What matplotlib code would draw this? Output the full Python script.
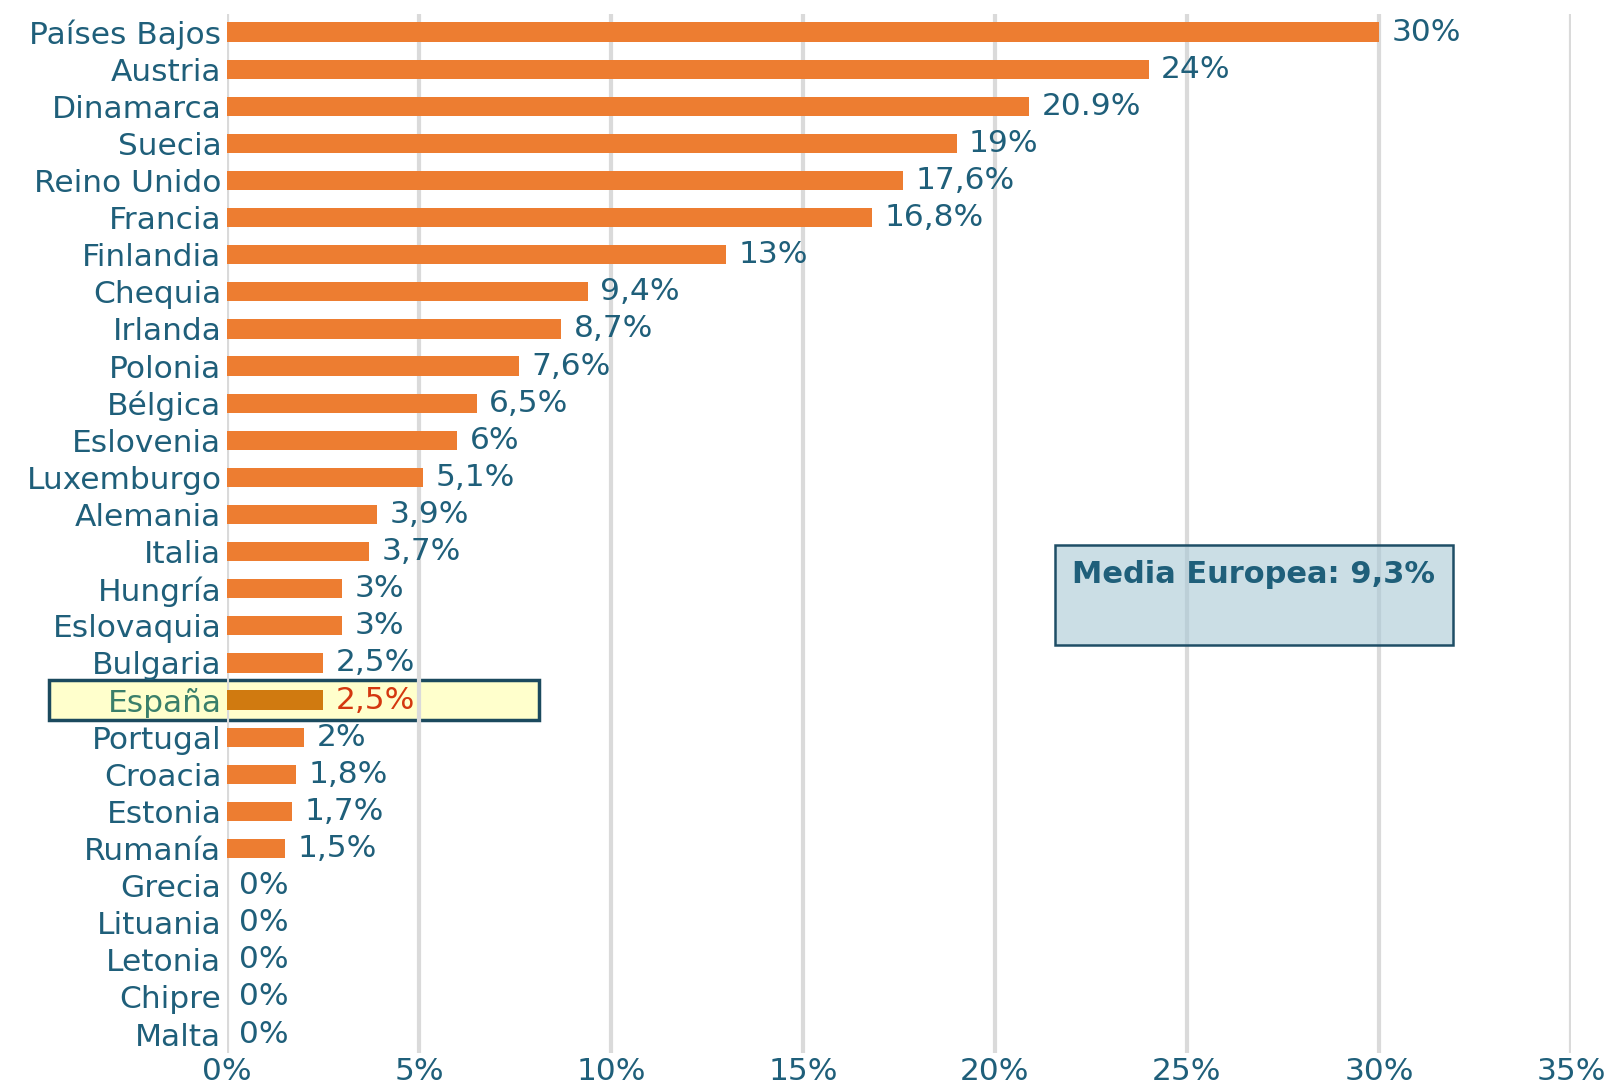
import matplotlib
matplotlib.use("Agg")
import matplotlib.pyplot as plt
from matplotlib.patches import Rectangle
import matplotlib.transforms as mtransforms

paises = ["Países Bajos", "Austria", "Dinamarca", "Suecia", "Reino Unido", "Francia",
          "Finlandia", "Chequia", "Irlanda", "Polonia", "Bélgica", "Eslovenia",
          "Luxemburgo", "Alemania", "Italia", "Hungría", "Eslovaquia", "Bulgaria",
          "España", "Portugal", "Croacia", "Estonia", "Rumanía", "Grecia",
          "Lituania", "Letonia", "Chipre", "Malta"]
valores = [30, 24, 20.9, 19, 17.6, 16.8, 13, 9.4, 8.7, 7.6, 6.5, 6, 5.1, 3.9, 3.7,
           3, 3, 2.5, 2.5, 2, 1.8, 1.7, 1.5, 0, 0, 0, 0, 0]
etiquetas = ["30%", "24%", "20.9%", "19%", "17,6%", "16,8%", "13%", "9,4%", "8,7%",
             "7,6%", "6,5%", "6%", "5,1%", "3,9%", "3,7%", "3%", "3%", "2,5%", "2,5%",
             "2%", "1,8%", "1,7%", "1,5%", "0%", "0%", "0%", "0%", "0%"]
ticks_x = [0, 5, 10, 15, 20, 25, 30, 35]
media_texto = "Media Europea: 9,3%"
destacado = "España"

azul = "#1F5F7A"
naranja = "#ED7D31"

plt.rcParams['font.family'] = ['DejaVu Sans']

fig = plt.figure(figsize=(16.12, 10.89), dpi=100)
ax = fig.add_axes([0.1408, 0.0334, 0.8337, 0.9542])

ys = list(range(len(paises)))
colores = ["#D07A10" if p == destacado else naranja for p in paises]
ax.barh(ys, valores, height=0.52, color=colores, zorder=3)

ax.set_xlim(0, 35)
ax.set_ylim(len(paises) - 0.5, -0.5)
ax.set_xticks(ticks_x)
ax.set_xticklabels([f"{t}%" for t in ticks_x])
ax.set_yticks(ys)
ax.set_yticklabels(paises)
ax.tick_params(axis='both', length=0, labelsize=22.5, labelcolor=azul)
ax.tick_params(axis='y', pad=4)
ax.tick_params(axis='x', pad=3)
for s in ax.spines.values():
    s.set_visible(False)
ax.grid(axis='x', color="#DADADA", linewidth=3)
ax.set_axisbelow(True)

for lab in ax.get_yticklabels():
    if lab.get_text() == destacado:
        lab.set_color("#3A7F6A")

for y, v, t, p in zip(ys, valores, etiquetas, paises):
    ax.annotate(t, (v, y), xytext=(9, 0), textcoords="offset points",
                va="center", ha="left", fontsize=22.5,
                color="#D4380F" if p == destacado else azul, zorder=5)

# recuadro de España
i = paises.index(destacado)
trans = mtransforms.blended_transform_factory(ax.transAxes, ax.transData)
ax.add_patch(Rectangle((-0.1324, i + 0.54), 0.3644, -1.08, transform=trans,
                       facecolor="#FFFFCC", edgecolor="#1B4A5E", linewidth=2.5,
                       clip_on=False, zorder=0.2))

# recuadro media europea
ax.add_patch(Rectangle((0.616, 0.392), 0.296, 0.0965, transform=ax.transAxes,
                       facecolor="#A9C8D5", alpha=0.6, edgecolor="none", zorder=4))
ax.add_patch(Rectangle((0.616, 0.392), 0.296, 0.0965, transform=ax.transAxes,
                       facecolor="none", edgecolor="#1F4E66", linewidth=1.8, zorder=4))
ax.text(0.764, 0.4605, media_texto, transform=ax.transAxes, ha="center", va="center",
        fontsize=22, fontweight="bold", color="#1F5F7A", zorder=5)

fig.savefig("out.png", dpi=100)
